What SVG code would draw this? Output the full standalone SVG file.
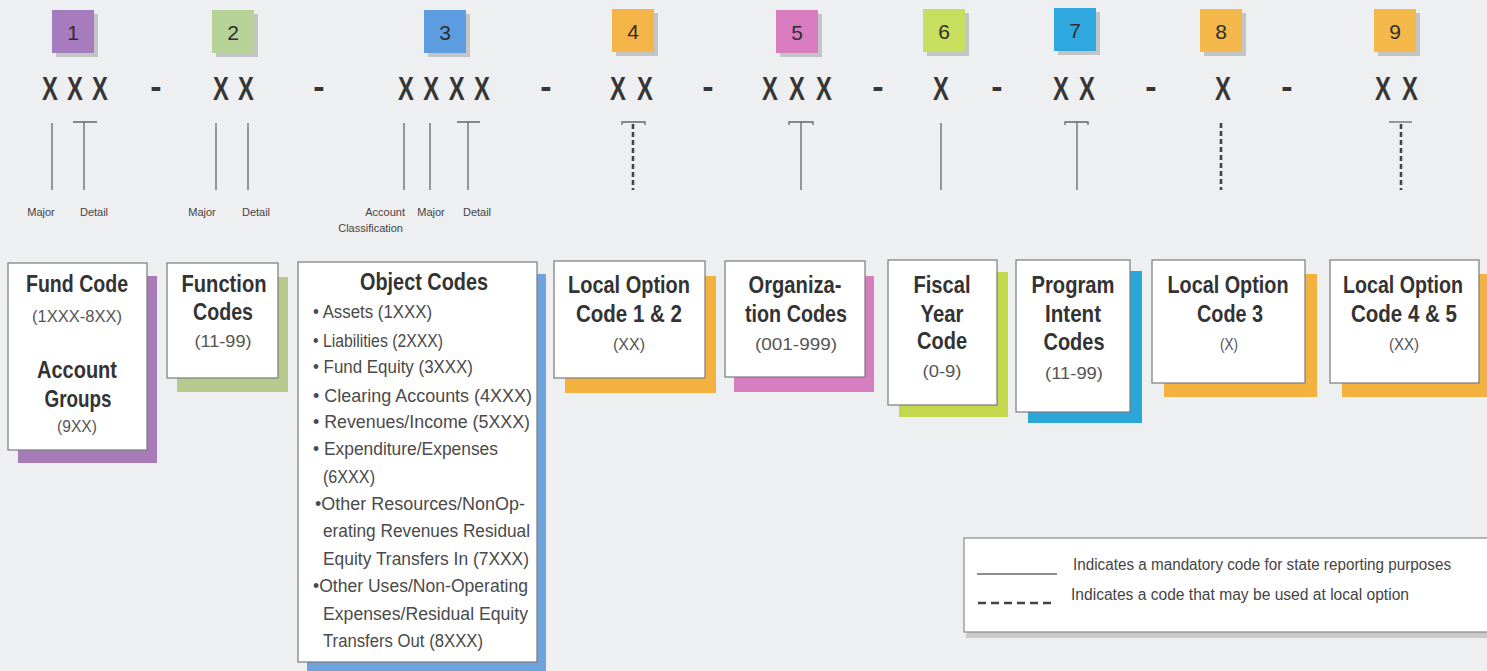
<svg xmlns="http://www.w3.org/2000/svg" width="1487" height="671" viewBox="0 0 1487 671">
<style>
text{font-family:"Liberation Sans",Arial,sans-serif}
.t{font-weight:bold;font-size:24px;fill:#333;text-anchor:middle}
.s{font-size:17px;fill:#555;text-anchor:middle}
.b{font-size:17.5px;fill:#4a4a4a}
.lbl{font-size:11px;fill:#444;text-anchor:middle}
.x{font-size:34px;fill:#363636;font-weight:bold}
.d{font-size:34px;fill:#363636;font-weight:bold;text-anchor:middle}
.n{font-size:21px;fill:#2e2e2e;text-anchor:middle}
.lg{font-size:16px;fill:#444}
.box{fill:#fff;stroke:#7a7a7a;stroke-width:1.2}
.sl{stroke:#666;stroke-width:1.3;fill:none}
.dl{stroke:#444;stroke-width:2.6;stroke-dasharray:5 3;fill:none}
.nsh{fill:#000;opacity:.18}
</style>
<rect width="1487" height="671" fill="#eeeff0"/>

<g id="numbers">
<g id="n1"><rect class="nsh" x="56" y="14" width="42" height="43"/><rect x="52" y="10" width="42" height="43" fill="#a67cbf"/><text class="n" x="73" y="40">1</text></g>
<g id="n2"><rect class="nsh" x="216" y="14" width="42" height="43"/><rect x="212" y="10" width="42" height="43" fill="#b6d297"/><text class="n" x="233" y="40">2</text></g>
<g id="n3"><rect class="nsh" x="428" y="14" width="42" height="43"/><rect x="424" y="10" width="42" height="43" fill="#5b9de0"/><text class="n" x="445" y="40">3</text></g>
<g id="n4"><rect class="nsh" x="616" y="13" width="42" height="43"/><rect x="612" y="9" width="42" height="43" fill="#f5b448"/><text class="n" x="633" y="39">4</text></g>
<g id="n5"><rect class="nsh" x="780" y="14" width="42" height="43"/><rect x="776" y="10" width="42" height="43" fill="#d97cbf"/><text class="n" x="797" y="40">5</text></g>
<g id="n6"><rect class="nsh" x="927" y="13" width="42" height="43"/><rect x="923" y="9" width="42" height="43" fill="#c8de5f"/><text class="n" x="944" y="39">6</text></g>
<g id="n7"><rect class="nsh" x="1058" y="12" width="42" height="43"/><rect x="1054" y="8" width="42" height="43" fill="#2ea8de"/><text class="n" x="1075" y="38">7</text></g>
<g id="n8"><rect class="nsh" x="1204" y="13" width="42" height="43"/><rect x="1200" y="9" width="42" height="43" fill="#f5b84b"/><text class="n" x="1221" y="39">8</text></g>
<g id="n9"><rect class="nsh" x="1378" y="13" width="42" height="43"/><rect x="1374" y="9" width="42" height="43" fill="#f5b84b"/><text class="n" x="1395" y="39">9</text></g>
</g>

<g id="codes">
<text class="x" transform="translate(42 100) scale(0.7 1)" letter-spacing="13">XXX</text>
<text class="x" transform="translate(213 100) scale(0.7 1)" letter-spacing="13">XX</text>
<text class="x" transform="translate(398 100) scale(0.7 1)" letter-spacing="13.5">XXXX</text>
<text class="x" transform="translate(610 100) scale(0.7 1)" letter-spacing="15.9">XX</text>
<text class="x" transform="translate(762 100) scale(0.7 1)" letter-spacing="15.9">XXX</text>
<text class="x" transform="translate(933 100) scale(0.7 1)">X</text>
<text class="x" transform="translate(1053 100) scale(0.7 1)" letter-spacing="14.5">XX</text>
<text class="x" transform="translate(1215 100) scale(0.7 1)">X</text>
<text class="x" transform="translate(1375 100) scale(0.7 1)" letter-spacing="15.9">XX</text>
<text class="d" x="156" y="98">-</text>
<text class="d" x="319" y="98">-</text>
<text class="d" x="546" y="98">-</text>
<text class="d" x="708" y="98">-</text>
<text class="d" x="878" y="98">-</text>
<text class="d" x="997" y="98">-</text>
<text class="d" x="1151" y="98">-</text>
<text class="d" x="1287" y="98">-</text>
</g>

<g id="connectors">
<line class="sl" x1="52" y1="123" x2="52" y2="190"/>
<path class="sl" d="M73 122H97M84 122V190"/>
<line class="sl" x1="216" y1="123" x2="216" y2="190"/>
<line class="sl" x1="248" y1="123" x2="248" y2="190"/>
<line class="sl" x1="404" y1="123" x2="404" y2="190"/>
<line class="sl" x1="430" y1="123" x2="430" y2="190"/>
<path class="sl" d="M457 122H480M468 122V190"/>
<path class="sl" d="M622 125V122H645V125"/>
<line class="dl" x1="633" y1="124" x2="633" y2="190"/>
<path class="sl" d="M789 125V122H813V125M801 122V190"/>
<line class="sl" x1="941" y1="123" x2="941" y2="190"/>
<path class="sl" d="M1065 125V122H1088V125M1077 122V190"/>
<line class="dl" x1="1221" y1="123" x2="1221" y2="190"/>
<path class="sl" d="M1389 122H1412"/>
<line class="dl" x1="1401" y1="124" x2="1401" y2="190"/>
</g>

<g id="labels">
<text class="lbl" x="41" y="216">Major</text>
<text class="lbl" x="94" y="216">Detail</text>
<text class="lbl" x="202" y="216">Major</text>
<text class="lbl" x="256" y="216">Detail</text>
<text class="lbl" x="405" y="216" style="text-anchor:end">Account</text>
<text class="lbl" x="403" y="232" style="text-anchor:end">Classification</text>
<text class="lbl" x="431" y="216">Major</text>
<text class="lbl" x="477" y="216">Detail</text>
</g>

<g id="fund">
<rect x="18" y="276" width="139" height="187" fill="#a67bb8"/>
<rect class="box" x="8" y="263" width="139" height="187"/>
<text class="t" x="77" y="292" textLength="102" lengthAdjust="spacingAndGlyphs">Fund Code</text>
<text class="s" x="77" y="322" textLength="90" lengthAdjust="spacingAndGlyphs">(1XXX-8XX)</text>
<text class="t" x="77" y="378" textLength="80" lengthAdjust="spacingAndGlyphs">Account</text>
<text class="t" x="78" y="407" textLength="67" lengthAdjust="spacingAndGlyphs">Groups</text>
<text class="s" x="77" y="432" textLength="40" lengthAdjust="spacingAndGlyphs">(9XX)</text>
</g>

<g id="function">
<rect x="177" y="277" width="111" height="115" fill="#b6cb8d"/>
<rect class="box" x="167" y="263" width="111" height="115"/>
<text class="t" x="224" y="292" textLength="85" lengthAdjust="spacingAndGlyphs">Function</text>
<text class="t" x="223" y="320" textLength="60" lengthAdjust="spacingAndGlyphs">Codes</text>
<text class="s" x="223" y="347" textLength="57" lengthAdjust="spacingAndGlyphs">(11-99)</text>
</g>

<g id="object">
<rect x="307" y="274" width="239" height="400" fill="#6ea3dc"/>
<rect class="box" x="298" y="262" width="239" height="400"/>
<text class="t" x="424" y="290" textLength="128" lengthAdjust="spacingAndGlyphs">Object Codes</text>
<text class="b" x="313" y="318" textLength="119" lengthAdjust="spacingAndGlyphs">• Assets (1XXX)</text>
<text class="b" x="313" y="347" textLength="130" lengthAdjust="spacingAndGlyphs">• Liabilities (2XXX)</text>
<text class="b" x="313" y="373" textLength="160" lengthAdjust="spacingAndGlyphs">• Fund Equity (3XXX)</text>
<text class="b" x="313" y="402" textLength="219" lengthAdjust="spacingAndGlyphs">• Clearing Accounts (4XXX)</text>
<text class="b" x="313" y="428" textLength="217" lengthAdjust="spacingAndGlyphs">• Revenues/Income (5XXX)</text>
<text class="b" x="313" y="455" textLength="185" lengthAdjust="spacingAndGlyphs">• Expenditure/Expenses</text>
<text class="b" x="323" y="483" textLength="52" lengthAdjust="spacingAndGlyphs">(6XXX)</text>
<text class="b" x="315" y="510" textLength="210" lengthAdjust="spacingAndGlyphs">•Other Resources/NonOp-</text>
<text class="b" x="323" y="537" textLength="207" lengthAdjust="spacingAndGlyphs">erating Revenues Residual</text>
<text class="b" x="323" y="565" textLength="206" lengthAdjust="spacingAndGlyphs">Equity Transfers In (7XXX)</text>
<text class="b" x="313" y="592" textLength="215" lengthAdjust="spacingAndGlyphs">•Other Uses/Non-Operating</text>
<text class="b" x="323" y="620" textLength="205" lengthAdjust="spacingAndGlyphs">Expenses/Residual Equity</text>
<text class="b" x="323" y="647" textLength="160" lengthAdjust="spacingAndGlyphs">Transfers Out (8XXX)</text>
</g>

<g id="local12">
<rect x="565" y="276" width="151" height="117" fill="#f3b23f"/>
<rect class="box" x="554" y="261" width="151" height="117"/>
<text class="t" x="629" y="293" textLength="122" lengthAdjust="spacingAndGlyphs">Local Option</text>
<text class="t" x="629" y="322" textLength="106" lengthAdjust="spacingAndGlyphs">Code 1 &amp; 2</text>
<text class="s" x="629" y="350" textLength="32" lengthAdjust="spacingAndGlyphs">(XX)</text>
</g>

<g id="organization">
<rect x="734" y="276" width="140" height="116" fill="#d67ec0"/>
<rect class="box" x="725" y="261" width="140" height="116"/>
<text class="t" x="795" y="293" textLength="93" lengthAdjust="spacingAndGlyphs">Organiza-</text>
<text class="t" x="796" y="322" textLength="102" lengthAdjust="spacingAndGlyphs">tion Codes</text>
<text class="s" x="796" y="350" textLength="82" lengthAdjust="spacingAndGlyphs">(001-999)</text>
</g>

<g id="fiscal">
<rect x="899" y="272" width="109" height="145" fill="#c4d84e"/>
<rect class="box" x="888" y="260" width="109" height="145"/>
<text class="t" x="942" y="293" textLength="57" lengthAdjust="spacingAndGlyphs">Fiscal</text>
<text class="t" x="942" y="322" textLength="43" lengthAdjust="spacingAndGlyphs">Year</text>
<text class="t" x="942" y="349" textLength="50" lengthAdjust="spacingAndGlyphs">Code</text>
<text class="s" x="942" y="377" textLength="39" lengthAdjust="spacingAndGlyphs">(0-9)</text>
</g>

<g id="program">
<rect x="1028" y="271" width="114" height="152" fill="#2ba6d9"/>
<rect class="box" x="1016" y="260" width="114" height="152"/>
<text class="t" x="1073" y="293" textLength="83" lengthAdjust="spacingAndGlyphs">Program</text>
<text class="t" x="1073" y="322" textLength="56" lengthAdjust="spacingAndGlyphs">Intent</text>
<text class="t" x="1074" y="350" textLength="61" lengthAdjust="spacingAndGlyphs">Codes</text>
<text class="s" x="1074" y="379" textLength="58" lengthAdjust="spacingAndGlyphs">(11-99)</text>
</g>

<g id="local3">
<rect x="1164" y="274" width="153" height="123" fill="#f3b23f"/>
<rect class="box" x="1152" y="260" width="153" height="123"/>
<text class="t" x="1228" y="293" textLength="121" lengthAdjust="spacingAndGlyphs">Local Option</text>
<text class="t" x="1230" y="322" textLength="66" lengthAdjust="spacingAndGlyphs">Code 3</text>
<text class="s" x="1229" y="350" textLength="18" lengthAdjust="spacingAndGlyphs">(X)</text>
</g>

<g id="local45">
<rect x="1342" y="274" width="149" height="123" fill="#f3b23f"/>
<rect class="box" x="1330" y="260" width="149" height="123"/>
<text class="t" x="1403" y="293" textLength="120" lengthAdjust="spacingAndGlyphs">Local Option</text>
<text class="t" x="1404" y="322" textLength="106" lengthAdjust="spacingAndGlyphs">Code 4 &amp; 5</text>
<text class="s" x="1404" y="350" textLength="30" lengthAdjust="spacingAndGlyphs">(XX)</text>
</g>

<g id="legend">
<rect x="966" y="542" width="530" height="96" fill="#c9c9c9"/>
<rect x="964" y="538" width="530" height="94" fill="#fff" stroke="#8a8a8a" stroke-width="1.2"/>
<line class="sl" x1="977" y1="574" x2="1057" y2="574"/>
<line class="dl" x1="978" y1="603" x2="1053" y2="603" style="stroke-dasharray:8 5"/>
<text class="lg" x="1073" y="570" textLength="378" lengthAdjust="spacingAndGlyphs">Indicates a mandatory code for state reporting purposes</text>
<text class="lg" x="1071" y="600" textLength="338" lengthAdjust="spacingAndGlyphs">Indicates a code that may be used at local option</text>
</g>
</svg>
